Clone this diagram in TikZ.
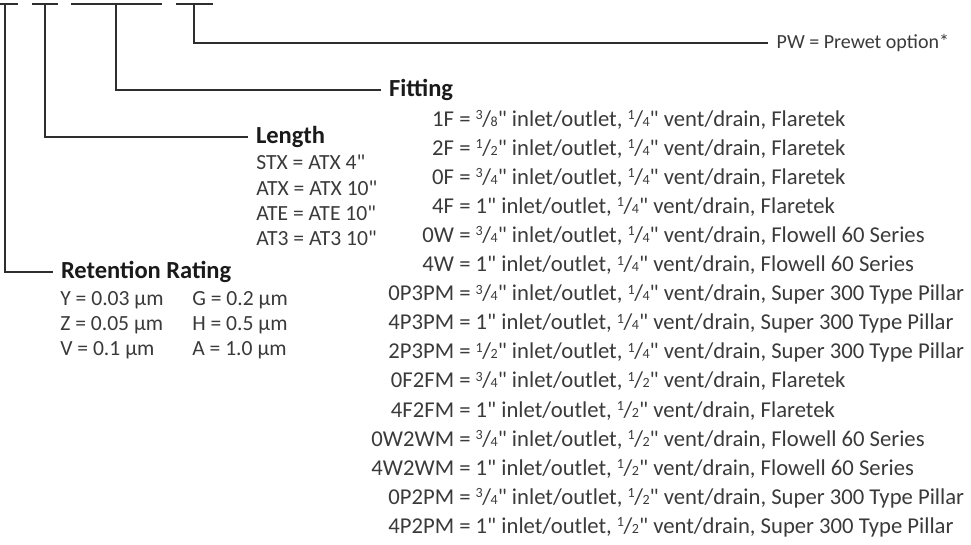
\documentclass[tikz,border=0pt]{standalone}
\usepackage{fontspec}
\newfontfamily\bodyfont{Carlito}
\definecolor{txt}{HTML}{3A3A3A}
\definecolor{ttl}{HTML}{1A1A1A}
\definecolor{ln}{HTML}{2E2E2E}
\newcommand\fr[2]{\raisebox{0.6ex}{\scalebox{0.62}{#1}}\kern-0.02em/\kern-0.02em\scalebox{0.62}{#2}}
\tikzset{
  lead/.style={draw=ln, line width=1.5pt},
  bar/.style={draw=ln, line width=1.9pt},
  title/.style={font=\bodyfont\bfseries\fontsize{18.4}{21}\selectfont, text=ttl, inner sep=0pt, outer xsep=6pt, anchor=west},
  pwlabel/.style={font=\bodyfont\fontsize{15}{17}\selectfont, text=txt, inner sep=0pt, outer xsep=6.5pt, anchor=west},
  fitrow/.style={font=\bodyfont\fontsize{17}{19}\selectfont, text=txt, inner sep=0pt, anchor=base west},
  smallrow/.style={font=\bodyfont\fontsize{16.2}{18}\selectfont, text=txt, inner sep=0pt, anchor=base west}
}
\begin{document}
\begin{tikzpicture}[x=0.75pt,y=-0.75pt]
\useasboundingbox (0,0) rectangle (971,544);
% code placeholder bars
\coordinate (b1) at (5,4);
\coordinate (b2) at (45,4);
\coordinate (b3) at (116,4);
\coordinate (b4) at (194,4);
\draw[bar] (0,4) -- (18,4);
\draw[bar] (32,4) -- (58,4);
\draw[bar] (71,4) -- (162,4);
\draw[bar] (176,4) -- (213,4);
% titles
\node[pwlabel] (pw) at (768,43) {PW = Prewet option*};
\node[title] (fit) at (381,90) {Fitting};
\node[title] (len) at (248,137) {Length};
\node[title] (ret) at (53,272) {Retention Rating};
% leaders
\draw[lead] (b4) |- (pw);
\draw[lead] (b3) |- (fit);
\draw[lead] (b2) |- (len);
\draw[lead] (b1) |- (ret);
% length list
\node[smallrow] (l1) at (256,169) {STX = ATX 4"};
\node[smallrow] (l2) at (256,195) {ATX = ATX 10"};
\node[smallrow] (l3) at (256,220) {ATE = ATE 10"};
\node[smallrow] (l4) at (256,245) {AT3 = AT3 10"};
% retention list
\node[smallrow] (r1) at (60,305) {Y = 0.03 µm};
\node[smallrow] (r2) at (60,330) {Z = 0.05 µm};
\node[smallrow] (r3) at (60,355) {V = 0.1 µm};
\node[smallrow] (r4) at (192,305) {G = 0.2 µm};
\node[smallrow] (r5) at (192,330) {H = 0.5 µm};
\node[smallrow] (r6) at (192,355) {A = 1.0 µm};
% fitting list
\node[fitrow] (f1)  at (459,126.0) {\llap{1F }= \fr38" inlet/outlet, \fr14" vent/drain, Flaretek};
\node[fitrow] (f2)  at (459,155.1) {\llap{2F }= \fr12" inlet/outlet, \fr14" vent/drain, Flaretek};
\node[fitrow] (f3)  at (459,184.2) {\llap{0F }= \fr34" inlet/outlet, \fr14" vent/drain, Flaretek};
\node[fitrow] (f4)  at (459,213.3) {\llap{4F }= 1" inlet/outlet, \fr14" vent/drain, Flaretek};
\node[fitrow] (f5)  at (459,242.4) {\llap{0W }= \fr34" inlet/outlet, \fr14" vent/drain, Flowell 60 Series};
\node[fitrow] (f6)  at (459,271.5) {\llap{4W }= 1" inlet/outlet, \fr14" vent/drain, Flowell 60 Series};
\node[fitrow] (f7)  at (459,300.6) {\llap{0P3PM }= \fr34" inlet/outlet, \fr14" vent/drain, Super 300 Type Pillar};
\node[fitrow] (f8)  at (459,329.7) {\llap{4P3PM }= 1" inlet/outlet, \fr14" vent/drain, Super 300 Type Pillar};
\node[fitrow] (f9)  at (459,358.8) {\llap{2P3PM }= \fr12" inlet/outlet, \fr14" vent/drain, Super 300 Type Pillar};
\node[fitrow] (f10) at (459,387.9) {\llap{0F2FM }= \fr34" inlet/outlet, \fr12" vent/drain, Flaretek};
\node[fitrow] (f11) at (459,417.0) {\llap{4F2FM }= 1" inlet/outlet, \fr12" vent/drain, Flaretek};
\node[fitrow] (f12) at (459,446.1) {\llap{0W2WM }= \fr34" inlet/outlet, \fr12" vent/drain, Flowell 60 Series};
\node[fitrow] (f13) at (459,475.2) {\llap{4W2WM }= 1" inlet/outlet, \fr12" vent/drain, Flowell 60 Series};
\node[fitrow] (f14) at (459,504.3) {\llap{0P2PM }= \fr34" inlet/outlet, \fr12" vent/drain, Super 300 Type Pillar};
\node[fitrow] (f15) at (459,533.4) {\llap{4P2PM }= 1" inlet/outlet, \fr12" vent/drain, Super 300 Type Pillar};
\end{tikzpicture}
\end{document}
